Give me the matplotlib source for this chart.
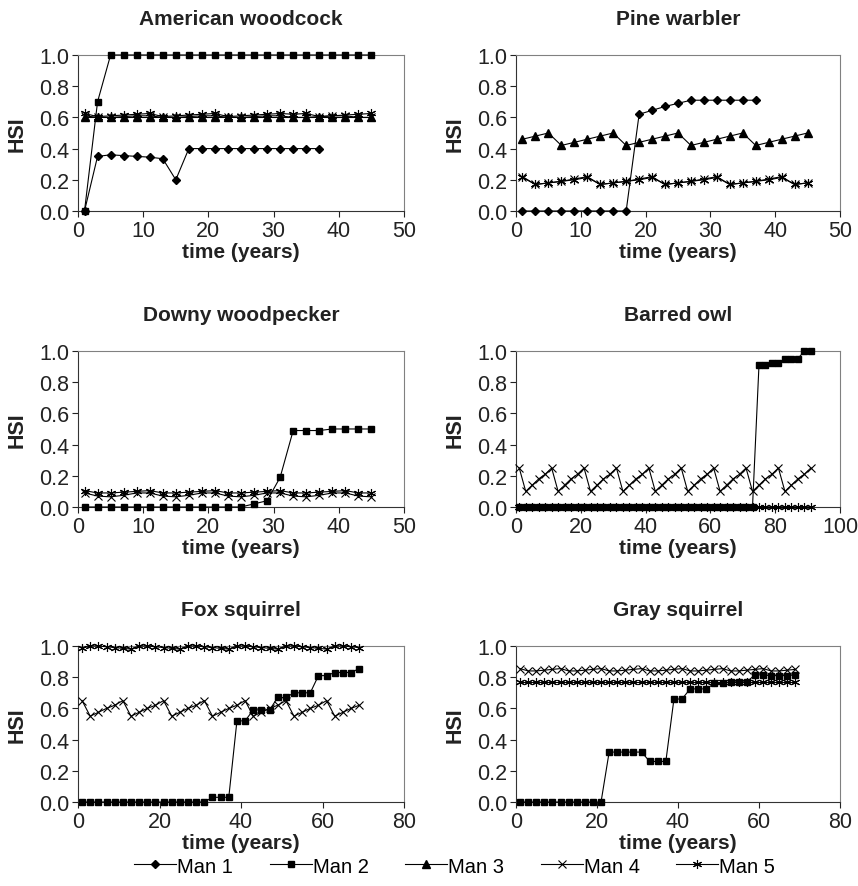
import matplotlib
matplotlib.use("Agg")
import matplotlib.pyplot as plt
from matplotlib.lines import Line2D
import numpy as np

plt.rcParams["font.family"] = ["Liberation Sans", "DejaVu Sans"]

# sampling years (every 2 years)
t45 = np.arange(1, 46, 2)
t37 = np.arange(1, 38, 2)
t91 = np.arange(1, 92, 2)
t69 = np.arange(1, 70, 2)

# American woodcock
wc_man1 = [0.0, 0.35, 0.36, 0.355, 0.35, 0.345, 0.335, 0.20, 0.40, 0.40,
           0.40, 0.40, 0.40, 0.40, 0.40, 0.40, 0.40, 0.40, 0.40]
wc_man2 = [0.0, 0.70, 1.0, 1.0, 1.0, 1.0, 1.0, 1.0, 1.0, 1.0, 1.0, 1.0,
           1.0, 1.0, 1.0, 1.0, 1.0, 1.0, 1.0, 1.0, 1.0, 1.0, 1.0]
wc_man3 = [0.60] * 23
wc_man4 = [0.61, 0.60, 0.60, 0.605, 0.61, 0.61, 0.60, 0.60, 0.605, 0.61,
           0.61, 0.60, 0.60, 0.605, 0.61, 0.61, 0.60, 0.60, 0.605, 0.61,
           0.61, 0.60, 0.60]
wc_man5 = [0.625, 0.605, 0.61, 0.615, 0.62, 0.625, 0.605, 0.61, 0.615, 0.62,
           0.625, 0.605, 0.61, 0.615, 0.62, 0.625, 0.62, 0.625, 0.605, 0.61,
           0.615, 0.62, 0.625]

# Pine warbler
pw_man1 = [0.0, 0.0, 0.0, 0.0, 0.0, 0.0, 0.0, 0.0, 0.0, 0.62,
           0.645, 0.67, 0.69, 0.71, 0.71, 0.71, 0.71, 0.71, 0.71]
pw_man3 = [0.46, 0.48, 0.50, 0.42, 0.44, 0.46, 0.48, 0.50, 0.42, 0.44,
           0.46, 0.48, 0.50, 0.42, 0.44, 0.46, 0.48, 0.50, 0.42, 0.44,
           0.46, 0.48, 0.50]
pw_man4 = [0.22, 0.17, 0.18, 0.19, 0.205, 0.22, 0.17, 0.18, 0.19, 0.205,
           0.22, 0.17, 0.18, 0.19, 0.205, 0.22, 0.17, 0.18, 0.19, 0.205,
           0.22, 0.17, 0.18]
pw_man5 = [0.215, 0.17, 0.18, 0.19, 0.20, 0.215, 0.17, 0.18, 0.19, 0.20,
           0.215, 0.17, 0.18, 0.19, 0.20, 0.215, 0.17, 0.18, 0.19, 0.20,
           0.215, 0.17, 0.18]

# Downy woodpecker
dw_man2 = [0.0, 0.0, 0.0, 0.0, 0.0, 0.0, 0.0, 0.0, 0.0, 0.0, 0.0, 0.0, 0.0,
           0.02, 0.04, 0.19, 0.49, 0.49, 0.49, 0.50, 0.50, 0.50, 0.50]
dw_man4 = [0.09, 0.07, 0.065, 0.075, 0.09, 0.09, 0.07, 0.065, 0.075, 0.09,
           0.09, 0.07, 0.065, 0.075, 0.09, 0.09, 0.07, 0.065, 0.075, 0.09,
           0.09, 0.07, 0.065]
dw_man5 = [0.105, 0.09, 0.09, 0.095, 0.10, 0.105, 0.09, 0.09, 0.095, 0.10,
           0.105, 0.09, 0.09, 0.095, 0.10, 0.105, 0.09, 0.09, 0.095, 0.10,
           0.105, 0.09, 0.09]

# Barred owl
bo_man2 = [0.0] * 37 + [0.91, 0.91, 0.92, 0.92, 0.95, 0.95, 0.95, 1.0, 1.0]
bo_man4 = [0.25, 0.10, 0.14, 0.18, 0.21] * 9 + [0.25]
bo_man5 = [0.0] * 46

# Fox squirrel
fs_man2 = [0.0] * 16 + [0.03, 0.03, 0.03, 0.52, 0.52, 0.59, 0.59, 0.59,
                        0.67, 0.67, 0.70, 0.70, 0.70, 0.81, 0.81,
                        0.83, 0.83, 0.83, 0.855]
fs_man4 = [0.65, 0.55, 0.575, 0.60, 0.62] * 7
fs_man5 = [0.985, 1.0, 1.0, 0.995, 0.99, 0.985, 0.98, 1.0, 1.0, 0.995,
           0.99, 0.985, 0.98, 1.0, 1.0, 0.995, 0.99, 0.985, 0.98, 1.0,
           1.0, 0.995, 0.99, 0.985, 0.98, 1.0, 1.0, 0.995, 0.99, 0.985,
           0.98, 1.0, 1.0, 0.995, 0.99]

# Gray squirrel
gs_man2 = [0.0] * 11 + [0.32] * 5 + [0.26] * 3 + [0.66] * 2 + [0.725] * 3 \
    + [0.76] * 2 + [0.77] * 3 + [0.815, 0.815, 0.81, 0.81, 0.81, 0.815]
gs_man4 = [0.855, 0.84, 0.84, 0.845, 0.85] * 7
gs_man5 = [0.77] * 35

styles = {
    "Man 1": dict(marker="D", ms=4.0),
    "Man 2": dict(marker="s", ms=4.9),
    "Man 3": dict(marker="^", ms=6),
    "Man 4": dict(marker="x", ms=5.5, mew=0.8),
    "Man 5": dict(marker=(6, 2, 0), ms=6.5, mew=0.8),
}

panels = [
    ("American woodcock", 50, 10,
     [("Man 1", t37, wc_man1), ("Man 3", t45, wc_man3), ("Man 4", t45, wc_man4),
      ("Man 5", t45, wc_man5), ("Man 2", t45, wc_man2)]),
    ("Pine warbler", 50, 10,
     [("Man 3", t45, pw_man3), ("Man 4", t45, pw_man4), ("Man 5", t45, pw_man5),
      ("Man 1", t37, pw_man1)]),
    ("Downy woodpecker", 50, 10,
     [("Man 4", t45, dw_man4), ("Man 5", t45, dw_man5), ("Man 2", t45, dw_man2)]),
    ("Barred owl", 100, 20,
     [("Man 5", t91, bo_man5), ("Man 4", t91, bo_man4), ("Man 2", t91, bo_man2)]),
    ("Fox squirrel", 80, 20,
     [("Man 5", t69, fs_man5), ("Man 4", t69, fs_man4), ("Man 2", t69, fs_man2)]),
    ("Gray squirrel", 80, 20,
     [("Man 4", t69, gs_man4), ("Man 5", t69, gs_man5), ("Man 2", t69, gs_man2)]),
]

fig = plt.figure(figsize=(8.58, 8.87), dpi=100)
lefts = [0.0909, 0.6014]
widths = [0.380, 0.3776]
bottoms = [0.761, 0.4273, 0.0947]
height = 0.1759

for i, (title, xmax, xstep, series) in enumerate(panels):
    r, c = divmod(i, 2)
    ax = fig.add_axes([lefts[c], bottoms[r], widths[c], height])
    for name, t, v in series:
        ax.plot(t, v, color="black", lw=0.8, clip_on=False, zorder=3,
                **styles[name])
    ax.set_xlim(0, xmax)
    ax.set_ylim(0, 1.0)
    ax.set_xticks(np.arange(0, xmax + 1, xstep))
    ax.set_yticks(np.arange(0, 1.01, 0.2))
    ax.set_yticklabels([f"{y:.1f}" for y in np.arange(0, 1.01, 0.2)])
    ax.tick_params(direction="out", length=4, width=0.8, labelsize=15.5,
                   colors="#222222", pad=2.5)
    for s in ["top", "right"]:
        ax.spines[s].set_color("#808080")
        ax.spines[s].set_linewidth(0.8)
    for s in ["left", "bottom"]:
        ax.spines[s].set_color("#333333")
        ax.spines[s].set_linewidth(0.8)
    ax.set_title(title, fontsize=15, fontweight="bold", pad=22, color="#222222")
    ax.set_xlabel("time (years)", fontsize=15, fontweight="bold",
                  labelpad=1, color="#222222")
    ax.set_ylabel("HSI", fontsize=15.5, fontweight="bold", labelpad=8,
                  color="#222222")

handles = [Line2D([], [], color="black", lw=0.8, **styles[n]) for n in styles]
fig.legend(handles, list(styles.keys()), loc="center", ncol=5,
           bbox_to_anchor=(0.53, 0.0225), frameon=False, fontsize=14.5,
           handlelength=2.1, handletextpad=0.05, columnspacing=1.8)

fig.savefig("out.png", dpi=100)
